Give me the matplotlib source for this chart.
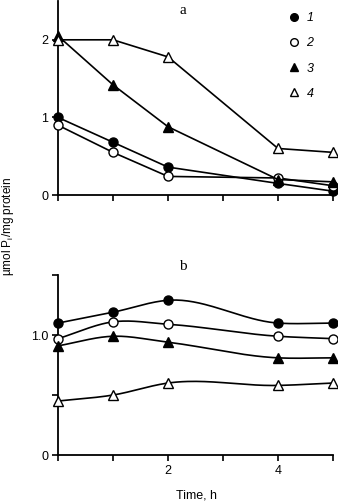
import numpy as np
import matplotlib.pyplot as plt
from matplotlib.lines import Line2D

# time points, h
czas = [0, 1, 2, 4, 5]

# panel a
a1 = [1.00, 0.68, 0.36, 0.15, 0.05]
a2 = [0.90, 0.55, 0.24, 0.22, 0.12]
a3 = [2.05, 1.42, 0.88, 0.20, 0.17]
a4 = [2.00, 2.00, 1.78, 0.60, 0.55]

# panel b
b1 = [1.10, 1.19, 1.29, 1.10, 1.10]
b2 = [0.97, 1.11, 1.09, 0.99, 0.97]
b3 = [0.91, 0.99, 0.94, 0.81, 0.81]
b4 = [0.45, 0.50, 0.60, 0.58, 0.60]

etykiety = ['1', '2', '3', '4']
markery = [('o', 'black'), ('o', 'white'), ('^', 'black'), ('^', 'white')]

plt.rcParams['font.family'] = ['Liberation Sans', 'DejaVu Sans']


def wygladz(x, y, n=40):
    # cubic hermite through the points (smoothed line like in spreadsheet plots)
    x = np.asarray(x, float)
    y = np.asarray(y, float)
    m = np.gradient(y, x)
    xs, ys = [], []
    for i in range(len(x) - 1):
        h = x[i + 1] - x[i]
        t = np.linspace(0, 1, n)
        h00 = 2 * t**3 - 3 * t**2 + 1
        h10 = t**3 - 2 * t**2 + t
        h01 = -2 * t**3 + 3 * t**2
        h11 = t**3 - t**2
        xs.append(x[i] + t * h)
        ys.append(h00 * y[i] + h10 * h * m[i] + h01 * y[i + 1] + h11 * h * m[i + 1])
    return np.concatenate(xs), np.concatenate(ys)


def styl(ax):
    for s in ['top', 'right']:
        ax.spines[s].set_visible(False)
    ax.spines['left'].set_linewidth(1.3)
    ax.spines['bottom'].set_linewidth(1.3)
    ax.tick_params(direction='out', length=4, width=1.2, labelsize=9, pad=3)
    ax.set_xlim(0, 5)
    ax.set_xticks([0, 1, 2, 3, 4, 5])


fig = plt.figure(figsize=(3.38, 5.04), dpi=100)

ax1 = fig.add_axes([0.1716, 0.613, 0.8136, 0.385])
ax2 = fig.add_axes([0.1716, 0.0972, 0.8136, 0.357])

# panel a - straight segments
for seria, (mk, fc) in zip([a1, a2, a3, a4], markery):
    ax1.plot(czas, seria, color='black', lw=1.2, marker=mk, markersize=6.5,
             markerfacecolor=fc, markeredgecolor='black', markeredgewidth=1.0,
             clip_on=False, zorder=3)
styl(ax1)
ax1.set_ylim(0, 2.5)
ax1.set_yticks([0, 1, 2])
ax1.set_yticklabels(['0', '1', '2'])
ax1.set_xticklabels([])

uchwyty = [Line2D([0], [0], ls='none', marker=mk, markersize=5.5, markerfacecolor=fc,
                  markeredgecolor='black', markeredgewidth=1.0) for mk, fc in markery]
leg = ax1.legend(uchwyty, etykiety, loc='upper right', bbox_to_anchor=(0.97, 1.0),
                 frameon=False, handlelength=1.0, handletextpad=0.5,
                 labelspacing=1.05, fontsize=9)
for t in leg.get_texts():
    t.set_fontstyle('italic')

# panel b - smoothed lines
for seria, (mk, fc) in zip([b1, b2, b3, b4], markery):
    xs, ys = wygladz(czas, seria)
    ax2.plot(xs, ys, color='black', lw=1.2, clip_on=False, zorder=2)
    ax2.plot(czas, seria, ls='none', marker=mk, markersize=6.5,
             markerfacecolor=fc, markeredgecolor='black', markeredgewidth=1.0,
             clip_on=False, zorder=3)
styl(ax2)
ax2.set_ylim(0, 1.5)
ax2.set_yticks([0, 0.5, 1.0, 1.5])
ax2.set_yticklabels(['0', '', '1.0', ''])
ax2.set_xticklabels(['', '', '2', '', '4', ''])

fig.text(183 / 338, 1 - 11 / 504, 'a', family='Liberation Serif', fontsize=11,
         ha='center', va='center')
fig.text(183 / 338, 1 - 267 / 504, 'b', family='Liberation Serif', fontsize=11,
         ha='center', va='center')
fig.text(8 / 338, 1 - 226 / 504, 'µmol P$_\\mathregular{i}$/mg protein', rotation=90,
         fontsize=8.5, ha='center', va='center')
fig.text(196 / 338, 1 - 495 / 504, 'Time, h', fontsize=9, ha='center', va='center')

fig.savefig('out.png', dpi=100)
